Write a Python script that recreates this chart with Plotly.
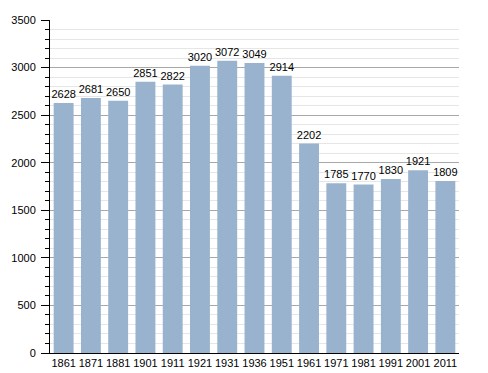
import plotly.graph_objects as go

years = ["1861", "1871", "1881", "1901", "1911", "1921", "1931", "1936", "1951",
         "1961", "1971", "1981", "1991", "2001", "2011"]
population = [2628, 2681, 2650, 2851, 2822, 3020, 3072, 3049, 2914,
              2202, 1785, 1770, 1830, 1921, 1809]

fig = go.Figure(go.Bar(
    x=years, y=population,
    marker=dict(color="#99b3cf", line=dict(width=0)),
    text=[str(v) for v in population],
    textposition="outside",
    constraintext="none",
    textfont=dict(family="Liberation Sans, Arial", size=11, color="#000"),
    cliponaxis=False,
))

fig.update_layout(
    width=480, height=365,
    margin=dict(l=42, r=29, t=12, b=20),
    paper_bgcolor="white", plot_bgcolor="white",
    bargap=0.27,
    showlegend=False,
    font=dict(family="Liberation Sans, Arial", size=11, color="#000"),
    xaxis=dict(
        type="category", showgrid=False, showline=True, linecolor="#000", linewidth=1,
        ticks="", tickfont=dict(size=11), ticklabelstandoff=0, automargin=False,
    ),
    yaxis=dict(
        range=[0, 3500], dtick=500, showline=True, linecolor="#000", linewidth=1,
        ticks="outside", ticklen=8, tickcolor="#000",
        gridcolor="#a8a8a8", gridwidth=1, automargin=False,
        ticklabelstandoff=3,
        minor=dict(dtick=100, showgrid=True, gridcolor="#e6e6e6", ticks="outside",
                   ticklen=4, tickcolor="#000"),
        tickfont=dict(size=11), zeroline=False,
    ),
)

fig.write_html("out.html")
